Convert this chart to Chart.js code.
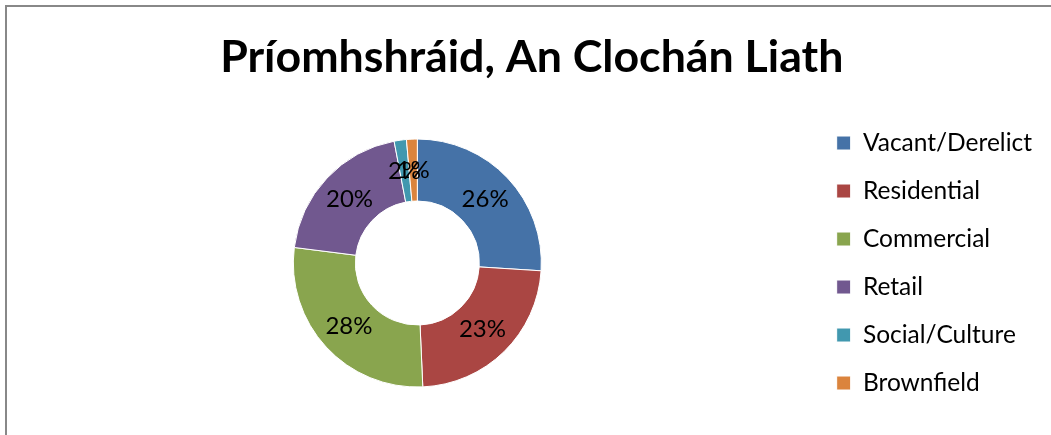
<!DOCTYPE html>
<html>
<head>
<meta charset="utf-8">
<script src="https://cdn.jsdelivr.net/npm/chart.js@4.4.1/dist/chart.umd.min.js"></script>
<style>
  html, body { margin: 0; padding: 0; background: #fff; overflow: hidden; }
  #frame { position: absolute; left: 5px; top: 5px; width: 3000px; height: 3000px; border-left: 2px solid #888; border-top: 2px solid #888; }
  #wrap { position: absolute; left: 0; top: 0; width: 1051px; height: 435px; }
</style>
</head>
<body>
<div id="frame"></div>
<div id="wrap"><canvas id="c" width="1051" height="435"></canvas></div>
<script>
const chartTitle = 'Príomhshráid, An Clochán Liath';
const categories = ['Vacant/Derelict', 'Residential', 'Commercial', 'Retail', 'Social/Culture', 'Brownfield'];
const shares = [26.0, 23.3, 27.7, 20.0, 1.6, 1.4];
const sliceColors = ['#4572A7', '#AA4643', '#89A54E', '#71588F', '#4198AF', '#DB843D'];

const FONT = 'Lato, "Open Sans", sans-serif';

const pctLabels = {
  id: 'pctLabels',
  afterDatasetsDraw(chart) {
    const ctx = chart.ctx;
    const meta = chart.getDatasetMeta(0);
    const data = chart.data.datasets[0].data;
    const total = data.reduce((a, b) => a + b, 0);
    ctx.save();
    ctx.font = '24px ' + FONT;
    ctx.fillStyle = '#000';
    ctx.textAlign = 'center';
    ctx.textBaseline = 'middle';
    meta.data.forEach((arc, i) => {
      const p = arc.tooltipPosition();
      ctx.fillText(Math.round(data[i] / total * 100) + '%', p.x, p.y);
    });
    ctx.restore();
  }
};

new Chart(document.getElementById('c'), {
  type: 'doughnut',
  data: {
    labels: categories,
    datasets: [{
      data: shares,
      backgroundColor: sliceColors,
      borderColor: '#ffffff',
      borderWidth: 1
    }]
  },
  options: {
    responsive: false,
    animation: false,
    radius: 124,
    cutout: '50%',
    layout: { padding: { left: 21.5, right: 9, top: 0, bottom: 0 } },
    plugins: {
      title: {
        display: true,
        text: chartTitle,
        color: '#000',
        font: { family: FONT, size: 44.7, weight: 'bold', lineHeight: 1.2 },
        padding: { top: 31.2, bottom: 6.2 }
      },
      legend: {
        position: 'right',
        align: 'center',
        fullSize: false,
        labels: {
          boxWidth: 14,
          boxHeight: 14,
          padding: 23.5,
          color: '#000',
          font: { family: FONT, size: 24.5 }
        }
      },
      tooltip: { enabled: false }
    }
  },
  plugins: [pctLabels]
});
</script>
</body>
</html>
